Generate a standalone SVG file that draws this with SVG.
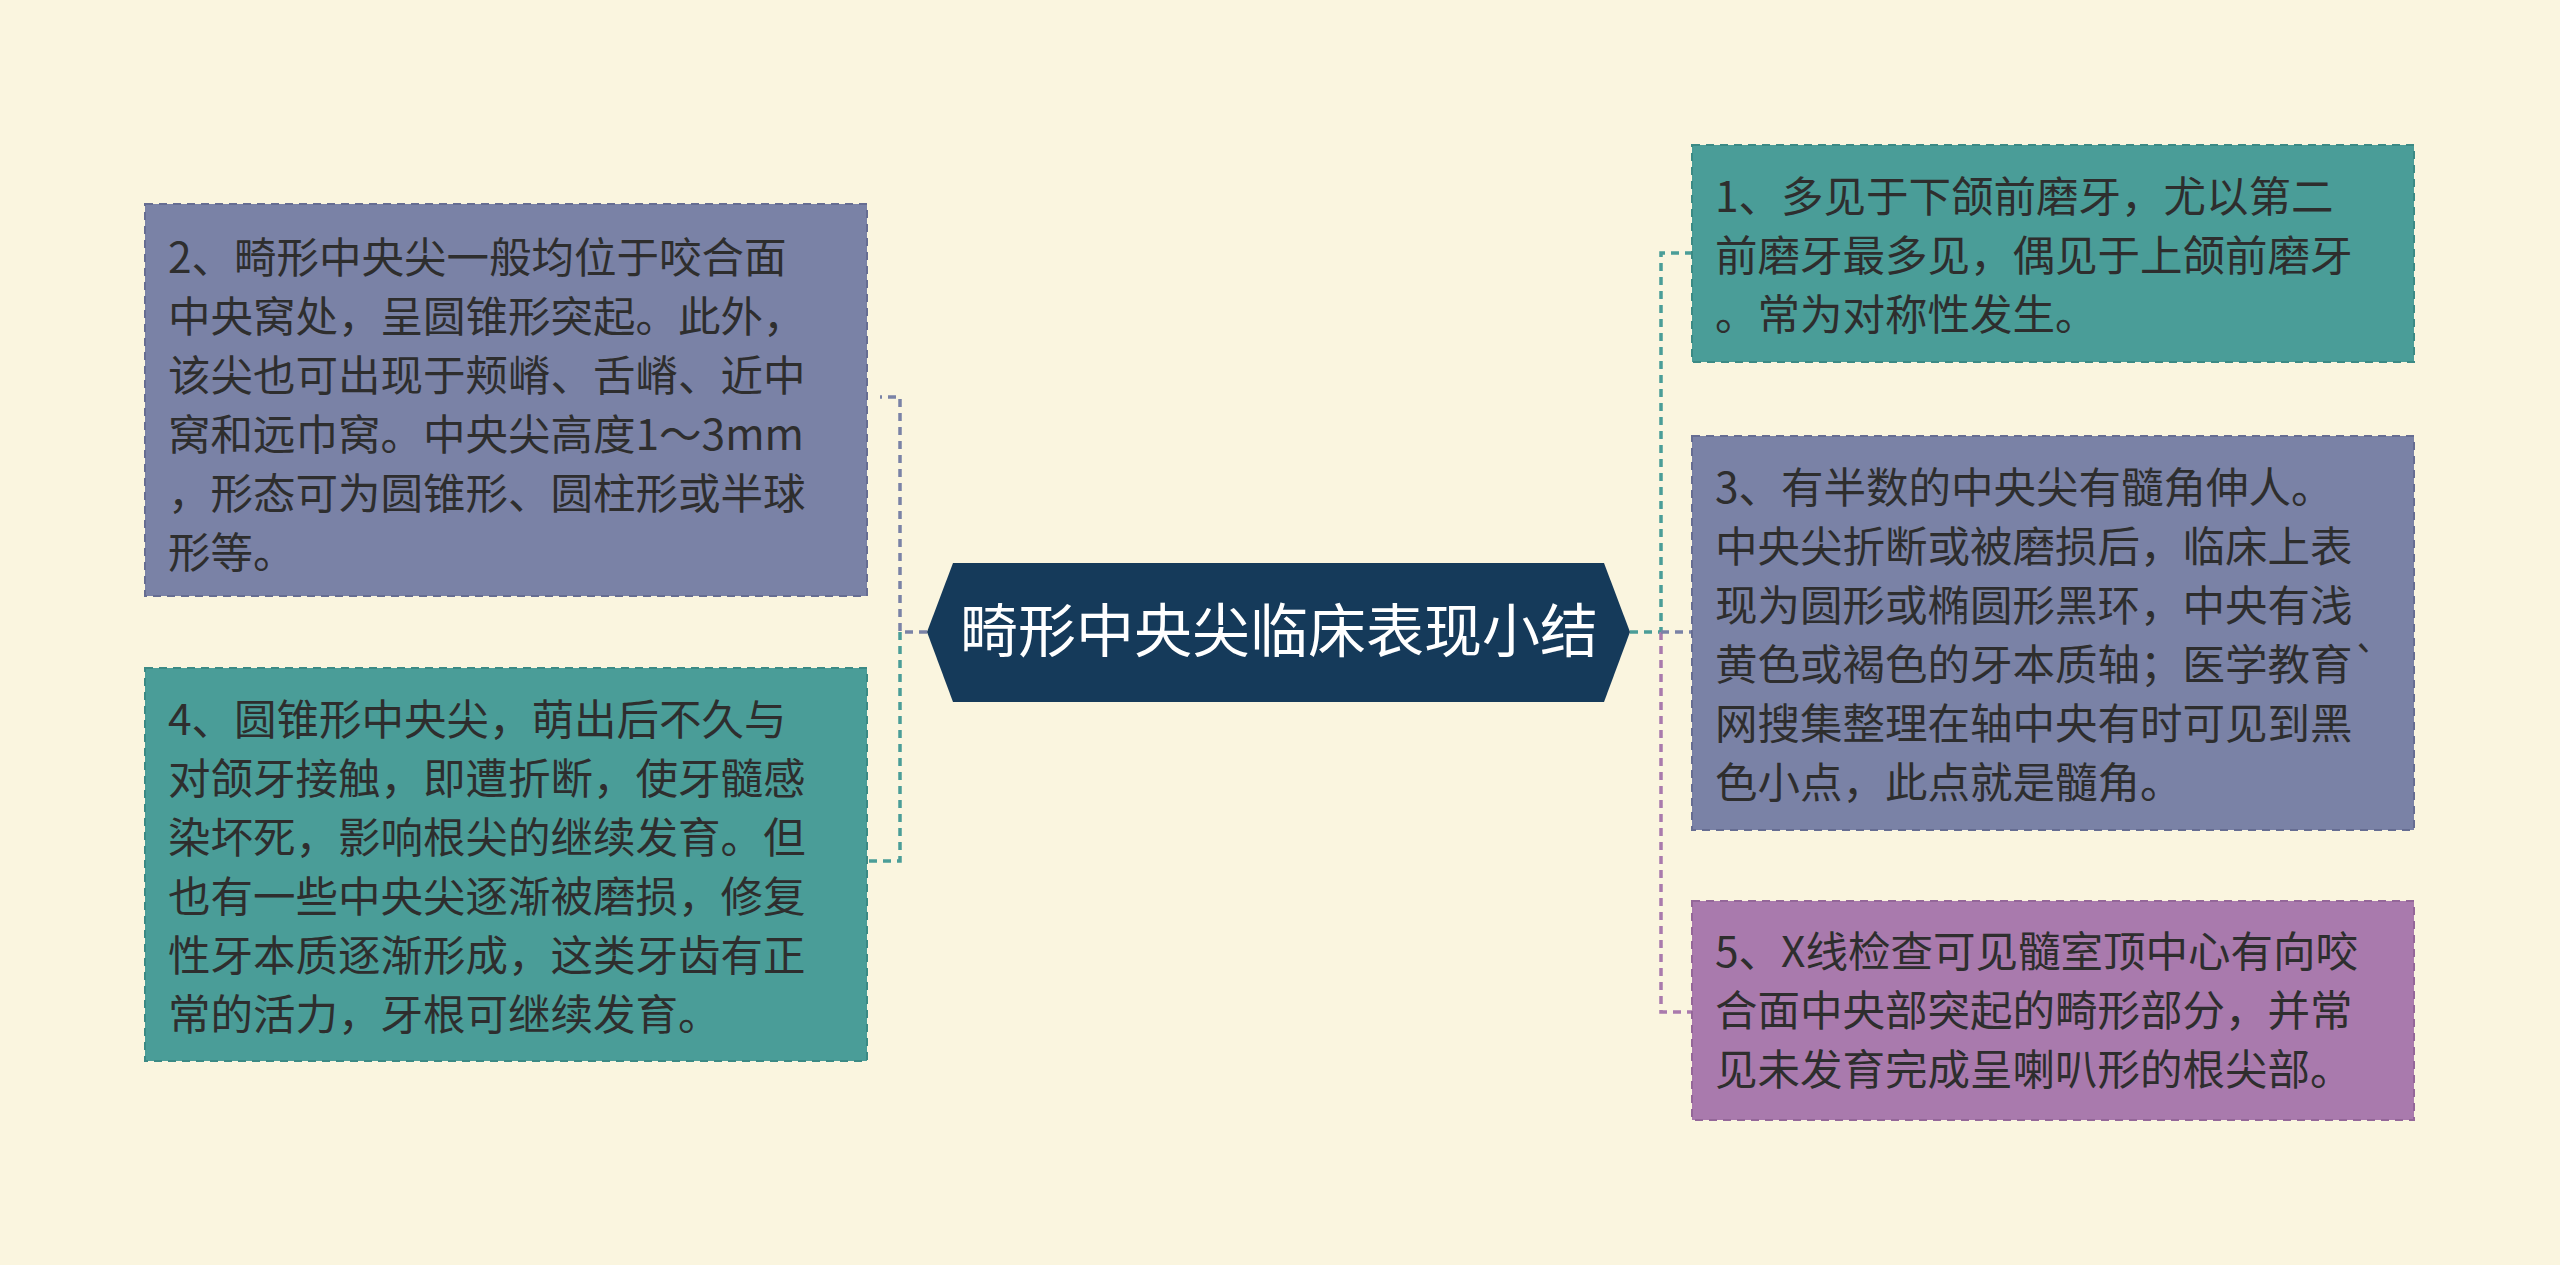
<svg xmlns="http://www.w3.org/2000/svg" width="2560" height="1265" viewBox="0 0 2560 1265">
<style>
.t{font-family:"Noto Sans CJK SC","Noto Sans",sans-serif;font-size:42.5px;fill:#2e2e2e}
.c{font-family:"Noto Sans CJK SC","Noto Sans",sans-serif;font-size:58px;fill:#fff}
.b{stroke-width:2;stroke-dasharray:8 6}
.l{fill:none;stroke-width:3.5;stroke-dasharray:8 6}
</style>
<rect width="2560" height="1265" fill="#faf5df"/>
<g id="connectors">
<path class="l" stroke="#7a82a6" d="M927 632H900V397H880"/>
<path class="l" stroke="#4a9d98" d="M900 632V861H867"/>
<path class="l" stroke="#4a9d98" d="M1630 632H1661V253H1692"/>
<path class="l" stroke="#a97aad" d="M1661 632V1012H1692"/>
<path class="l" stroke="#7a82a6" d="M1661 632H1692"/>
</g>
<g id="center">
<polygon points="953,563 1604,563 1630,632 1604,702 953,702 927,632" fill="#153a5a"/>
<text class="c" x="1279" y="652" text-anchor="middle">畸形中央尖临床表现小结</text>
</g>
<g id="n2">
<rect x="145" y="204" width="722" height="392" fill="#7a82a6" stroke="#666d92" class="b"/>
<text class="t" x="168" y="273">2、畸形中央尖一般均位于咬合面</text>
<text class="t" x="168" y="332">中央窝处，呈圆锥形突起。此外，</text>
<text class="t" x="168" y="391">该尖也可出现于颊嵴、舌嵴、近中</text>
<text class="t" x="168" y="450">窝和远巾窝。中央尖高度1～3mm</text>
<text class="t" x="168" y="509">，形态可为圆锥形、圆柱形或半球</text>
<text class="t" x="168" y="568">形等。</text>
</g>
<g id="n4">
<rect x="145" y="668" width="722" height="393" fill="#4a9d98" stroke="#3b8a85" class="b"/>
<text class="t" x="168" y="735">4、圆锥形中央尖，萌出后不久与</text>
<text class="t" x="168" y="794">对颌牙接触，即遭折断，使牙髓感</text>
<text class="t" x="168" y="853">染坏死，影响根尖的继续发育。但</text>
<text class="t" x="168" y="912">也有一些中央尖逐渐被磨损，修复</text>
<text class="t" x="168" y="971">性牙本质逐渐形成，这类牙齿有正</text>
<text class="t" x="168" y="1030">常的活力，牙根可继续发育。</text>
</g>
<g id="n1">
<rect x="1692" y="145" width="722" height="217" fill="#4a9d98" stroke="#3b8a85" class="b"/>
<text class="t" x="1715" y="212">1、多见于下颌前磨牙，尤以第二</text>
<text class="t" x="1715" y="271">前磨牙最多见，偶见于上颌前磨牙</text>
<text class="t" x="1715" y="330">。常为对称性发生。</text>
</g>
<g id="n3">
<rect x="1692" y="436" width="722" height="394" fill="#7a82a6" stroke="#666d92" class="b"/>
<text class="t" x="1715" y="503">3、有半数的中央尖有髓角伸人。</text>
<text class="t" x="1715" y="562">中央尖折断或被磨损后，临床上表</text>
<text class="t" x="1715" y="621">现为圆形或椭圆形黑环，中央有浅</text>
<text class="t" x="1715" y="680">黄色或褐色的牙本质轴；医学教育`</text>
<text class="t" x="1715" y="739">网搜集整理在轴中央有时可见到黑</text>
<text class="t" x="1715" y="798">色小点，此点就是髓角。</text>
</g>
<g id="n5">
<rect x="1692" y="901" width="722" height="219" fill="#a97aad" stroke="#946799" class="b"/>
<text class="t" x="1715" y="967">5、X线检查可见髓室顶中心有向咬</text>
<text class="t" x="1715" y="1026">合面中央部突起的畸形部分，并常</text>
<text class="t" x="1715" y="1085">见未发育完成呈喇叭形的根尖部。</text>
</g>
</svg>
